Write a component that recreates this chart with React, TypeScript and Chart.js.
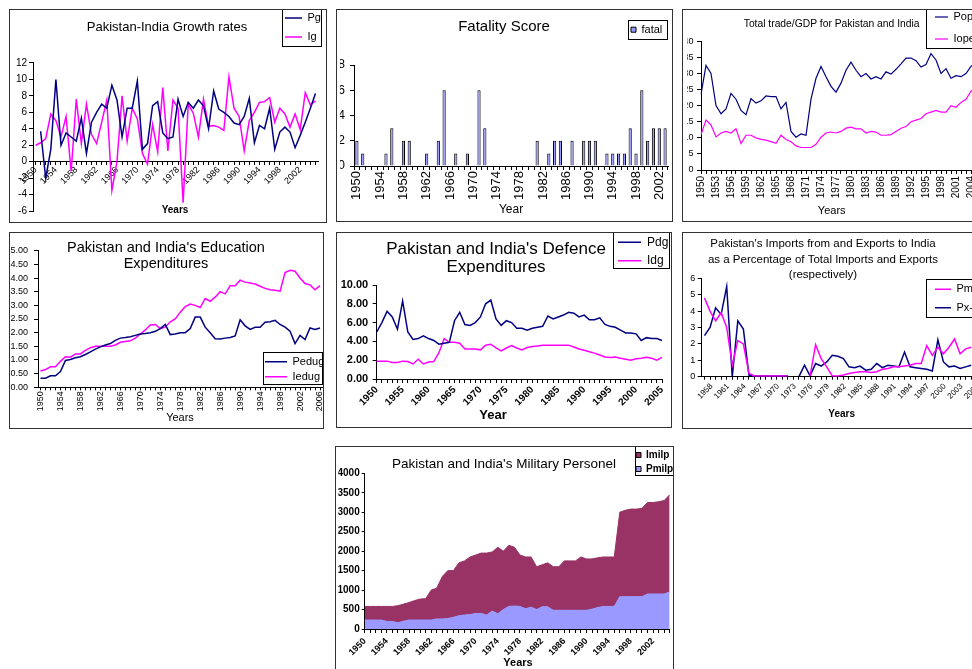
import React, { useEffect, useRef } from 'react';
import { Chart, registerables } from 'chart.js';

Chart.register(...registerables);

const FONT = "'Liberation Sans', Arial, Helvetica, sans-serif";
Chart.defaults.font.family = FONT;
Chart.defaults.color = '#000';

const NAVY = '#000080';
const MAGENTA = '#FF00FF';
const LAVENDER = '#9999FF';
const MAROON = '#993366';

// ---------------- DATA ----------------
const YEARS = [
  '1950', '1951', '1952', '1953', '1954', '1955', '1956', '1957', '1958', '1959',
  '1960', '1961', '1962', '1963', '1964', '1965', '1966', '1967', '1968', '1969',
  '1970', '1971', '1972', '1973', '1974', '1975', '1976', '1977', '1978', '1979',
  '1980', '1981', '1982', '1983', '1984', '1985', '1986', '1987', '1988', '1989',
  '1990', '1991', '1992', '1993', '1994', '1995', '1996', '1997', '1998', '1999',
  '2000', '2001', '2002', '2003', '2004', '2005', '2006',
];

// Panel 1: growth rates 1950-2005
const growthYears = YEARS.slice(0, 56);
const pakGrowth = [
  null, 3.7, -2.0, 1.5, 10.0, 2.0, 3.5, 3.0, 2.5, 5.3,
  1.0, 4.8, 6.0, 7.0, 6.5, 9.3, 7.5, 3.0, 6.5, 6.5,
  9.8, 1.5, 2.2, 6.8, 7.3, 3.5, 2.8, 3.0, 7.6, 5.5,
  7.2, 6.5, 7.5, 6.8, 4.0, 8.6, 6.4, 6.0, 5.5, 4.7,
  4.5, 5.5, 7.7, 2.3, 4.4, 4.0, 6.5, 1.5, 3.6, 4.2,
  3.6, 1.7, 3.2, 4.8, 6.5, 8.3,
];
const indGrowth = [
  2.0, 2.3, 2.8, 5.8, 5.0, 3.0, 5.5, -1.2, 7.6, 2.2,
  7.0, 3.3, 2.2, 4.8, 7.5, -3.5, 0.0, 8.0, 2.5, 6.5,
  5.2, 1.0, -0.3, 4.5, 1.2, 9.0, 1.3, 7.5, 6.5, -5.0,
  7.0, 5.9, 3.0, 7.6, 4.3, 4.4, 4.2, 3.8, 10.3, 6.5,
  5.5, 1.3, 5.0, 6.0, 7.2, 7.3, 7.8, 4.8, 6.5, 5.8,
  4.2, 5.8, 3.9, 8.4, 6.9, 7.4,
];

// Panel 2: fatality score 1950-2003
const fatalYears = YEARS.slice(0, 54);
const fatalScore = [
  2, 1, 0, 0, 0, 1, 3, 0, 2, 2,
  0, 0, 1, 0, 2, 6, 0, 1, 0, 1,
  0, 6, 3, 0, 0, 0, 0, 0, 0, 0,
  0, 2, 0, 1, 2, 2, 0, 2, 0, 2,
  2, 2, 0, 1, 1, 1, 1, 3, 1, 6,
  2, 3, 3, 3,
];

// Panel 3: total trade / GDP 1950-2005
const tradeYears = YEARS.slice(0, 56);
const pakOpenness = [
  23.5, 32.5, 30, 20, 17.5, 19, 23.8, 22, 18.5, 17.2,
  22.2, 20.8, 21.5, 23, 22.8, 22.8, 19, 21, 12, 10.2,
  11.2, 10.8, 22, 28.5, 32.2, 29, 26, 24.2, 27, 31,
  33.5, 31, 29, 30, 28.3, 29, 28.3, 30.5, 29.8, 31.3,
  33, 34.8, 34.8, 34, 32, 32.8, 36.2, 34.2, 30, 31.5,
  28.5, 29.3, 29, 30, 32.2, 33.5,
];
const indOpenness = [
  11, 15.5, 14, 10.3, 11.5, 12, 11.5, 12.8, 8.2, 10.8,
  10.8, 10, 9.5, 9.3, 8.8, 8.3, 10.8, 9.5, 8.8, 7.5,
  7, 7, 7, 8, 10.2, 11.5, 11.8, 11.5, 12, 13,
  13.3, 12.8, 12.8, 11.5, 12, 11.8, 10.8, 10.8, 11, 12,
  13, 13.5, 15, 15.5, 16, 17.5, 18, 18.5, 18, 18,
  20, 19.5, 21, 22, 24.5, 25.5,
];

// Panel 4: education expenditures 1950-2006
const eduYears = YEARS;
const pakEdu = [
  0.33, 0.33, 0.42, 0.42, 0.58, 0.98, 1.02, 1.08, 1.12, 1.2,
  1.3, 1.4, 1.48, 1.55, 1.6, 1.72, 1.8, 1.82, 1.85, 1.9,
  1.95, 1.97, 2.0, 2.05, 2.15, 2.3, 1.93, 1.95, 2.0, 2.0,
  2.15, 2.57, 2.57, 2.2, 2.0, 1.78, 1.77, 1.8, 1.82, 1.88,
  2.47, 2.25, 2.12, 2.2, 2.2, 2.38, 2.4, 2.45, 2.3, 2.2,
  2.05, 1.6, 1.9, 1.75, 2.17, 2.12, 2.17,
];
const indEdu = [
  0.6, 0.65, 0.75, 0.75, 0.95, 1.12, 1.1, 1.22, 1.22, 1.35,
  1.45, 1.5, 1.5, 1.5, 1.5, 1.55, 1.65, 1.68, 1.7, 1.8,
  1.95, 2.1, 2.28, 2.3, 2.15, 2.2, 2.4, 2.5, 2.75, 2.95,
  3.05, 3.0, 2.92, 3.25, 3.15, 3.3, 3.5, 3.42, 3.72, 3.72,
  3.92, 3.85, 3.82, 3.78, 3.7, 3.62, 3.57, 3.55, 3.52, 4.2,
  4.28, 4.25, 4.0, 3.8, 3.75, 3.57, 3.72,
];

// Panel 5: defence expenditures 1950-2005
const defYears = YEARS.slice(0, 56);
const pakDef = [
  5.0, 6.0, 7.2, 6.6, 5.3, 8.3, 5.0, 4.2, 4.3, 4.6,
  4.3, 4.1, 3.7, 3.8, 3.9, 6.2, 7.1, 5.8, 5.7, 6.0,
  6.6, 8.0, 8.4, 6.4, 5.7, 6.2, 6.0, 5.4, 5.4, 5.2,
  5.4, 5.5, 5.6, 6.7, 6.4, 6.6, 6.8, 7.1, 7.0, 6.6,
  6.8, 6.3, 6.3, 6.5, 5.8, 5.6, 5.5, 5.2, 4.9, 4.9,
  4.8, 4.1, 4.4, 4.3, 4.3, 4.1,
];
const indDef = [
  1.9, 1.9, 1.9, 1.75, 1.75, 1.9, 1.85, 1.6, 2.1, 1.6,
  1.8, 1.85, 2.8, 4.3, 3.9, 3.9, 3.8, 3.2, 3.2, 3.2,
  3.1, 3.6, 3.7, 3.3, 3.0, 3.3, 3.55, 3.3, 3.1, 3.35,
  3.45, 3.5, 3.6, 3.6, 3.6, 3.6, 3.6, 3.6, 3.4, 3.2,
  3.05, 2.9, 2.75, 2.55, 2.35, 2.3, 2.35, 2.2, 2.1, 2.0,
  2.15, 2.2, 2.3, 2.2, 2.0, 2.3,
];

// Panel 6: Pakistan imports from / exports to India (% of total) 1958-2006
const shareYears = YEARS.slice(8);
const pakImportsIndia = [
  4.8, 4.0, 3.4, 3.9, 3.0, 0.7, 2.2, 2.0, 0.2,
  0.05, 0.05, 0.05, 0.05, 0.05, 0.05, 0.05,
  null, null, null,
  0.05, 1.95, 1.1, 0.6, 0.05, 0.05, 0.1, 0.2, 0.25, 0.3,
  0.3, 0.25, 0.3, 0.45, 0.5, 0.6, 0.6, 0.65, 0.7, 0.8,
  0.8, 1.9, 1.3, 1.8, 1.4, 1.8, 2.3, 1.4, 1.7, 1.8,
];
const pakExportsIndia = [
  2.5, 3.0, 4.2, 3.8, 5.5, 0.0, 3.4, 2.9, 0.1,
  0.05, 0.05, 0.05, 0.05, 0.05, 0.05, 0.05,
  null,
  0.0, 0.7, 0.05, 0.8, 0.65, 0.9, 1.3, 1.25, 1.1, 0.6,
  0.55, 0.65, 0.4, 0.45, 0.8, 0.55, 0.7, 0.65, 0.6, 1.5,
  0.6, 0.55, 0.5, 0.45, 0.35, 2.25, 0.9, 0.6, 0.65, 0.5,
  0.6, 0.7,
];

// Panel 7: military personnel (thousands) 1950-2005
const milYears = YEARS.slice(0, 56);
const pakMil = [
  230, 230, 230, 230, 195, 195, 160, 200, 230, 230,
  230, 230, 230, 260, 260, 270, 300, 340, 360, 370,
  400, 400, 360, 460, 390, 500, 580, 590, 580, 520,
  560, 500, 570, 570, 480, 480, 480, 480, 480, 480,
  480, 510, 550, 580, 580, 580, 830, 830, 830, 830,
  830, 900, 900, 900, 900, 950,
];
const indMil = [
  350, 350, 350, 350, 385, 385, 440, 440, 450, 500,
  540, 550, 770, 790, 1090, 1230, 1200, 1360, 1390, 1480,
  1500, 1550, 1590, 1520, 1710, 1500, 1570, 1510, 1320, 1330,
  1290, 1100, 1080, 1130, 1120, 1120, 1270, 1270, 1270, 1370,
  1320, 1290, 1280, 1270, 1270, 1270, 2170, 2220, 2250, 2250,
  2270, 2350, 2350, 2370, 2400, 2500,
];

// ---------------- HELPERS ----------------
type Area = { l: number; t: number; r: number; b: number };

function frame(W: number, area: Area, t: { text: string | string[]; size: number; lh: number; cx: number; cy: number }) {
  const padRight = W - area.r;
  const padLeft = 2 * t.cx - area.r;
  const lines = Array.isArray(t.text) ? t.text.length : 1;
  const pt = t.cy - t.lh / 2;
  const pb = area.t - pt - lines * t.lh;
  return {
    padLeft,
    padRight,
    yWidth: area.l - padLeft,
    title: {
      display: true,
      text: t.text,
      color: '#000',
      font: { size: t.size, weight: 'normal', lineHeight: `${t.lh}px` },
      padding: { top: pt, bottom: pb },
    },
  };
}

function yScale(o: any) {
  return {
    type: 'linear',
    position: 'left',
    min: o.min,
    max: o.max,
    stacked: !!o.stacked,
    ticks: {
      stepSize: o.step,
      autoSkip: false,
      color: '#000',
      padding: o.pad,
      font: { size: o.size, weight: o.bold ? 'bold' : 'normal' },
      callback: (v: any) => (o.fmt ? o.fmt(Number(v)) : String(v)),
    },
    grid: { display: true, drawOnChartArea: false, drawTicks: true, tickLength: o.tick, color: '#000', lineWidth: 1 },
    border: { display: true, color: '#000', width: 1 },
    afterFit: (s: any) => {
      s.width = o.width;
      s.paddingTop = 0;
      s.paddingBottom = 0;
      s.paddingLeft = 0;
      s.paddingRight = 0;
    },
  };
}

function xScale(o: any) {
  const labels: string[] = o.labels;
  return {
    type: 'category',
    offset: o.offset,
    position: o.position ?? 'bottom',
    ticks: {
      autoSkip: false,
      minRotation: o.rot,
      maxRotation: o.rot,
      padding: o.pad,
      labelOffset: o.labelOffset ?? 0,
      color: '#000',
      font: { size: o.size, weight: o.bold ? 'bold' : 'normal' },
      callback: (_v: any, i: number) => (i % o.every === 0 ? labels[i] : ''),
    },
    grid: {
      display: true,
      drawOnChartArea: false,
      drawTicks: true,
      tickLength: o.tick,
      color: '#000',
      lineWidth: 1,
      offset: !!o.gridOffset,
    },
    border: { display: true, color: '#000', width: 1 },
    afterFit: (s: any) => {
      if (o.height != null) s.height = o.height;
      s.paddingLeft = 0;
      s.paddingRight = 0;
      s.paddingTop = 0;
      s.paddingBottom = 0;
    },
  };
}

function legendOptions(l: any) {
  const labels: any = {
    color: '#000',
    font: { size: l.size, weight: l.bold ? 'bold' : 'normal' },
    padding: l.padding,
    boxWidth: l.boxWidth,
    boxHeight: l.boxHeight ?? l.size,
  };
  if (l.line) {
    labels.usePointStyle = true;
    labels.pointStyle = 'line';
    labels.pointStyleWidth = l.boxWidth;
  } else {
    labels.generateLabels = (chart: any) =>
      (Chart.defaults.plugins.legend.labels as any)
        .generateLabels(chart)
        .map((it: any) => ({ ...it, strokeStyle: '#000', lineWidth: 1 }));
  }
  return { display: true, position: 'chartArea', align: 'start', reverse: !!l.reverse, labels };
}

function placeLegend(l: any) {
  return {
    id: 'placeLegend',
    afterLayout(chart: any) {
      const lg = chart.legend;
      if (!lg) return;
      lg.left = l.left;
      lg.top = l.top;
      lg.width = 400;
      lg.height = 400;
      lg.right = l.left + 400;
      lg.bottom = l.top + 400;
    },
    beforeDraw(chart: any) {
      const [x, y, w, h] = l.box;
      const ctx = chart.ctx;
      ctx.save();
      ctx.fillStyle = '#fff';
      ctx.fillRect(x, y, w, h);
      ctx.strokeStyle = '#000';
      ctx.lineWidth = 1;
      ctx.strokeRect(Math.round(x) + 0.5, Math.round(y) + 0.5, Math.round(w), Math.round(h));
      ctx.restore();
    },
  };
}

function captions(items: { text: string; x: number; y: number; size: number; bold?: boolean }[]) {
  return {
    id: 'captions',
    afterDraw(chart: any) {
      const ctx = chart.ctx;
      ctx.save();
      ctx.fillStyle = '#000';
      ctx.textAlign = 'center';
      ctx.textBaseline = 'middle';
      for (const it of items) {
        ctx.font = `${it.bold ? 'bold ' : ''}${it.size}px ${FONT}`;
        ctx.fillText(it.text, it.x, it.y);
      }
      ctx.restore();
    },
  };
}

function options(f: any, leg: any, padBottom: number, scales: any) {
  return {
    responsive: false,
    animation: false,
    events: [],
    layout: { padding: { left: f.padLeft, right: f.padRight, top: 0, bottom: padBottom } },
    plugins: { title: f.title, legend: legendOptions(leg), tooltip: { enabled: false } },
    scales,
  };
}

const lineDs = (label: string, data: any[], color: string, width: number) => ({
  label,
  data,
  borderColor: color,
  backgroundColor: color,
  borderWidth: width,
  pointRadius: 0,
  pointHoverRadius: 0,
  pointBorderWidth: width,
  pointBorderColor: color,
  tension: 0,
  fill: false,
  spanGaps: false,
});

// ---------------- PANEL CONFIGS ----------------
function growthConfig(W: number, H: number) {
  const area = { l: 23, t: 53, r: 308, b: 201 };
  const f = frame(W, area, { text: 'Pakistan-India Growth rates', size: 13, lh: 15.6, cx: 157, cy: 17 });
  const leg = { box: [272, -1, 39, 37], left: 267, top: -5.5, size: 11, padding: 8, boxWidth: 17, line: true };
  return {
    type: 'line',
    data: { labels: growthYears, datasets: [lineDs('Pg', pakGrowth, NAVY, 1.5), lineDs('Ig', indGrowth, MAGENTA, 1.5)] },
    options: options(f, leg, H - area.b, {
      x: xScale({ labels: growthYears, every: 4, rot: 45, size: 9, tick: 3, pad: 0, offset: true, position: { y: 0 } }),
      y: yScale({ min: -6, max: 12, step: 2, size: 10, tick: 4, pad: 2, width: f.yWidth }),
    }),
    plugins: [placeLegend(leg), captions([{ text: 'Years', x: 165, y: 200, size: 10, bold: true }])],
  };
}

function fatalConfig(W: number, H: number) {
  const area = { l: 17, t: 55, r: 331, b: 156 };
  const f = frame(W, area, { text: 'Fatality Score', size: 15, lh: 18, cx: 167, cy: 17 });
  const leg = { box: [291, 10, 39, 19], left: 290, top: 10.2, size: 11, padding: 4, boxWidth: 5, boxHeight: 5, line: false };
  return {
    type: 'bar',
    data: {
      labels: fatalYears,
      datasets: [{
        label: 'fatal',
        data: fatalScore,
        backgroundColor: LAVENDER,
        borderColor: '#000',
        borderWidth: 1,
        categoryPercentage: 1,
        barPercentage: 0.55,
      }],
    },
    options: options(f, leg, 0, {
      x: xScale({ labels: fatalYears, every: 4, rot: 90, size: 13, tick: 4, pad: 1, offset: true, gridOffset: true, height: H - area.b }),
      y: yScale({ min: 0, max: 8, step: 2, size: 12, tick: 4, pad: 5, width: f.yWidth }),
    }),
    plugins: [placeLegend(leg), captions([{ text: 'Year', x: 174, y: 200, size: 12 }])],
  };
}

function tradeConfig(W: number, H: number) {
  const area = { l: 18, t: 31.3, r: 293, b: 160 };
  const f = frame(W, area, { text: 'Total trade/GDP for Pakistan and India', size: 10.3, lh: 12.4, cx: 148.6, cy: 13.7 });
  const leg = { box: [243, -1, 70, 39], left: 241, top: -9.5, size: 11, padding: 11, boxWidth: 13, line: true };
  return {
    type: 'line',
    data: { labels: tradeYears, datasets: [lineDs('Poper', pakOpenness, NAVY, 1.2), lineDs('Ioper', indOpenness, MAGENTA, 1.2)] },
    options: options(f, leg, 0, {
      x: xScale({ labels: tradeYears, every: 3, rot: 90, size: 10, tick: 4, pad: 2, offset: false, height: H - area.b }),
      y: yScale({ min: 0, max: 40, step: 5, size: 9, tick: 4, pad: 3.5, width: f.yWidth }),
    }),
    plugins: [placeLegend(leg), captions([{ text: 'Years', x: 148.7, y: 200.7, size: 11 }])],
  };
}

function eduConfig(W: number, H: number) {
  const area = { l: 28, t: 17.7, r: 312.5, b: 154.3 };
  const f = frame(W, area, { text: ["Pakistan and India's Education", 'Expenditures'], size: 14.5, lh: 16, cx: 156, cy: 15 });
  const leg = { box: [253, 119, 59, 32], left: 251, top: 119.2, size: 11, padding: 4, boxWidth: 22, line: true };
  return {
    type: 'line',
    data: { labels: eduYears, datasets: [lineDs('Pedug', pakEdu, NAVY, 1.5), lineDs('Iedug', indEdu, MAGENTA, 1.5)] },
    options: options(f, leg, 0, {
      x: xScale({ labels: eduYears, every: 4, rot: 90, size: 9, tick: 3, pad: 1, offset: true, height: H - area.b }),
      y: yScale({ min: 0, max: 5, step: 0.5, size: 9, tick: 4, pad: 6, width: f.yWidth, fmt: (v: number) => v.toFixed(2) }),
    }),
    plugins: [placeLegend(leg), captions([{ text: 'Years', x: 170, y: 185, size: 11 }])],
  };
}

function defConfig(W: number, H: number) {
  const area = { l: 39.7, t: 52, r: 325, b: 146 };
  const f = frame(W, area, { text: ["Pakistan and India's Defence", 'Expenditures'], size: 17, lh: 18.7, cx: 159, cy: 16 });
  const leg = { box: [276, -1, 56, 36], left: 274.6, top: -3.1, size: 12, padding: 6.4, boxWidth: 23, line: true };
  return {
    type: 'line',
    data: { labels: defYears, datasets: [lineDs('Pdg', pakDef, NAVY, 1.5), lineDs('Idg', indDef, MAGENTA, 1.5)] },
    options: options(f, leg, 0, {
      x: xScale({ labels: defYears, every: 5, rot: 45, size: 10, bold: true, tick: 4, pad: 1, offset: false, height: H - area.b }),
      y: yScale({ min: 0, max: 10, step: 2, size: 11, bold: true, tick: 4, pad: 4.5, width: f.yWidth, fmt: (v: number) => v.toFixed(2) }),
    }),
    plugins: [placeLegend(leg), captions([{ text: 'Year', x: 156, y: 182, size: 13, bold: true }])],
  };
}

function shareConfig(W: number, H: number) {
  const area = { l: 18.7, t: 45.3, r: 291, b: 143.7 };
  const f = frame(W, area, {
    text: ["Pakistan's Imports from and Exports to India", 'as a Percentage of Total Imports and Exports', '(respectively)'],
    size: 11.5, lh: 15.5, cx: 140, cy: 11,
  });
  const leg = { box: [243, 46, 70, 38], left: 244.6, top: 43.4, size: 11, padding: 7.4, boxWidth: 16, line: true };
  return {
    type: 'line',
    data: { labels: shareYears, datasets: [lineDs('Pm-India', pakImportsIndia, MAGENTA, 1.5), lineDs('Px-India', pakExportsIndia, NAVY, 1.5)] },
    options: options(f, leg, 0, {
      x: xScale({ labels: shareYears, every: 3, rot: 45, size: 8, tick: 3, pad: 2, offset: true, labelOffset: 7, height: H - area.b }),
      y: yScale({ min: 0, max: 6, step: 1, size: 9, tick: 4, pad: 2.5, width: f.yWidth }),
    }),
    plugins: [placeLegend(leg), captions([{ text: 'Years', x: 158.7, y: 181.3, size: 10, bold: true }])],
  };
}

function milConfig(W: number, H: number) {
  const area = { l: 28.7, t: 26.3, r: 333.7, b: 182 };
  const f = frame(W, area, { text: "Pakistan and India's Military Personel", size: 13.5, lh: 15.6, cx: 168, cy: 17 });
  const leg = { box: [299, -1, 38, 29], left: 296, top: -1, size: 10, bold: true, padding: 4, boxWidth: 5, boxHeight: 5, line: false, reverse: true };
  return {
    type: 'line',
    data: {
      labels: milYears,
      datasets: [
        { label: 'Pmilp', data: pakMil, fill: 'origin', backgroundColor: LAVENDER, borderColor: LAVENDER, borderWidth: 1, pointRadius: 0, pointHoverRadius: 0, tension: 0 },
        { label: 'Imilp', data: indMil, fill: '-1', backgroundColor: MAROON, borderColor: MAROON, borderWidth: 1, pointRadius: 0, pointHoverRadius: 0, tension: 0 },
      ],
    },
    options: options(f, leg, 0, {
      x: xScale({ labels: milYears, every: 4, rot: 45, size: 9, bold: true, tick: 4, pad: 3, offset: false, height: H - area.b }),
      y: yScale({ min: 0, max: 4000, step: 500, size: 10, bold: true, tick: 3, pad: 2, width: f.yWidth, stacked: true }),
    }),
    plugins: [placeLegend(leg), captions([{ text: 'Years', x: 182, y: 215.7, size: 11, bold: true }])],
  };
}

const PANELS = [
  { key: 'growth', left: 9, top: 9, width: 318, height: 214, make: growthConfig },
  { key: 'fatal', left: 336, top: 9, width: 337, height: 213, make: fatalConfig },
  { key: 'trade', left: 682, top: 9, width: 302, height: 213, make: tradeConfig },
  { key: 'edu', left: 9, top: 232, width: 315, height: 197, make: eduConfig },
  { key: 'def', left: 336, top: 232, width: 336, height: 196, make: defConfig },
  { key: 'share', left: 682, top: 232, width: 302, height: 197, make: shareConfig },
  { key: 'mil', left: 335, top: 446, width: 339, height: 233, make: milConfig },
];

function Panel(p: { left: number; top: number; width: number; height: number; make: (W: number, H: number) => any }) {
  const ref = useRef<HTMLCanvasElement>(null);
  const W = p.width - 2;
  const H = p.height - 2;
  useEffect(() => {
    if (!ref.current) return;
    const chart = new Chart(ref.current, p.make(W, H));
    return () => chart.destroy();
  }, []);
  return (
    <div
      style={{
        position: 'absolute',
        left: p.left,
        top: p.top,
        width: p.width,
        height: p.height,
        boxSizing: 'border-box',
        border: '1px solid #333',
        background: '#fff',
        overflow: 'hidden',
      }}
    >
      <canvas ref={ref} width={W} height={H} style={{ display: 'block', width: W, height: H }} />
    </div>
  );
}

export default function App() {
  return (
    <div
      style={{
        position: 'fixed',
        left: 0,
        top: 0,
        width: 972,
        height: 669,
        overflow: 'hidden',
        background: '#fff',
      }}
    >
      {PANELS.map((p) => (
        <Panel key={p.key} left={p.left} top={p.top} width={p.width} height={p.height} make={p.make} />
      ))}
    </div>
  );
}
